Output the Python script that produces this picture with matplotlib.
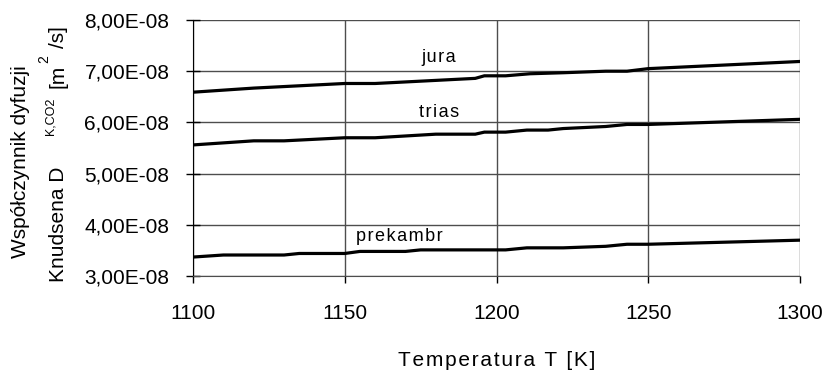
import matplotlib.pyplot as plt
from matplotlib.ticker import FuncFormatter

plt.rcParams['font.family'] = ['Liberation Sans', 'DejaVu Sans']

# temperature break points and diffusion coefficients (x1e-8 m2/s)
t_jura = [1100, 1120, 1150, 1160, 1193, 1196, 1203, 1211, 1222, 1236, 1243, 1250, 1300]
d_jura = [6.59, 6.67, 6.76, 6.76, 6.86, 6.91, 6.91, 6.95, 6.97, 7.00, 7.00, 7.05, 7.19]

t_trias = [1100, 1110, 1120, 1130, 1150, 1160, 1180, 1193, 1196, 1203, 1210, 1217, 1222, 1236, 1243, 1250, 1300]
d_trias = [5.56, 5.60, 5.64, 5.64, 5.70, 5.70, 5.77, 5.77, 5.81, 5.81, 5.85, 5.85, 5.88, 5.92, 5.96, 5.96, 6.06]

t_prek = [1100, 1110, 1130, 1135, 1150, 1155, 1170, 1175, 1203, 1210, 1222, 1236, 1243, 1250, 1300]
d_prek = [3.37, 3.41, 3.41, 3.44, 3.44, 3.48, 3.48, 3.51, 3.51, 3.55, 3.55, 3.58, 3.62, 3.62, 3.70]

series = [
    ('jura', t_jura, d_jura, (1181, 7.27)),
    ('trias', t_trias, d_trias, (1181, 6.19)),
    ('prekambr', t_prek, d_prek, (1168, 3.77)),
]

x_ticks = [1100, 1150, 1200, 1250, 1300]
y_ticks = [3e-8, 4e-8, 5e-8, 6e-8, 7e-8, 8e-8]


def spaced(s):
    # loose letter spacing like the original
    return '\u200a'.join(s)


W, H = 823, 370
fig = plt.figure(figsize=(W / 100, H / 100), dpi=100)
ax = fig.add_axes([193 / W, 1 - 276 / H, (800 - 193) / W, (276 - 20) / H])

for name, t, d, (lx, ly) in series:
    ax.plot(t, [v * 1e-8 for v in d], color='black', lw=2.3, solid_joinstyle='miter')
    ax.text(lx, ly * 1e-8, spaced(name), ha='center', va='center', fontsize=13)

ax.set_xlim(1100, 1300)
ax.set_ylim(3e-8, 8e-8)
ax.set_xticks(x_ticks)
ax.set_yticks(y_ticks)
ax.yaxis.set_major_formatter(FuncFormatter(lambda v, p: ('%.2E' % v).replace('.', ',')))
ax.grid(True, color='#4d4d4d', lw=1)
ax.set_axisbelow(True)
for s in ['top', 'right']:
    ax.spines[s].set_visible(False)
ax.spines['left'].set_color('black')
ax.spines['bottom'].set_color('#4d4d4d')
ax.tick_params(axis='y', direction='inout', length=10, width=1, labelsize=15, pad=12)
ax.tick_params(axis='x', direction='out', length=5, width=1, labelsize=15, pad=15)

ax.set_xlabel(spaced('Temperatura T [K]'), fontsize=15, labelpad=20)

# y label pieces placed in pixel coordinates
def ftext(x, y, s, size, **kw):
    fig.text(x / W, 1 - y / H, s, fontsize=size, rotation=90, ha='center', va='center', **kw)

ftext(21, 162, 'Współczynnik dyfuzji', 15)
ftext(58, 224, 'Knudsena D', 15)
ftext(50, 116, 'K,CO2', 9)
ftext(58, 76, '[m', 15)
ftext(44, 59, '2', 10)
ftext(58, 37, '/s]', 15)

fig.savefig('out.png', dpi=100)
